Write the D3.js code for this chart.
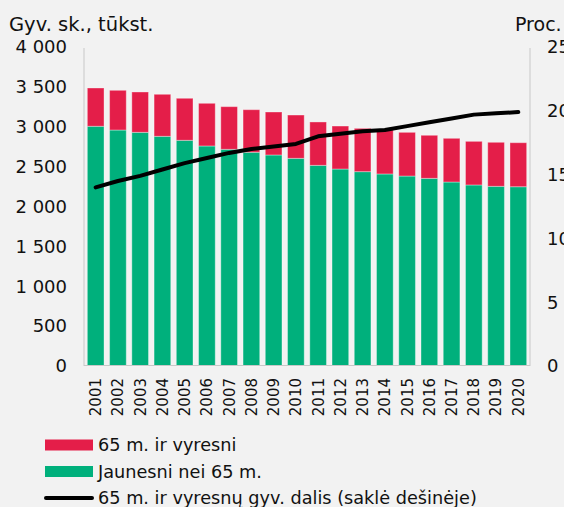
<!DOCTYPE html>
<html>
<head>
<meta charset="utf-8">
<script src="https://cdn.jsdelivr.net/npm/d3@7"></script>
<style>
  html, body { margin: 0; padding: 0; background: #f2f2f2; }
  svg { display: block; font-family: "DejaVu Sans", Verdana, sans-serif; }
</style>
</head>
<body>
<svg id="chart" width="564" height="507"></svg>
<script>
// data
const years = ["2001","2002","2003","2004","2005","2006","2007","2008","2009","2010",
               "2011","2012","2013","2014","2015","2016","2017","2018","2019","2020"];
const younger = [3006,2959,2930,2880,2830,2759,2717,2680,2646,2604,
                 2516,2470,2437,2408,2382,2353,2307,2270,2253,2248];
const older = [480,498,506,527,527,535,535,534,539,543,
               544,539,543,555,548,540,548,547,552,552];
const shareOlder = [14.0,14.5,14.9,15.4,15.9,16.3,16.7,17.0,17.2,17.4,
                    18.0,18.2,18.4,18.5,18.8,19.1,19.4,19.7,19.8,19.9];
const leftTicks = [0,500,1000,1500,2000,2500,3000,3500,4000];
const rightTicks = [0,5,10,15,20,25];
const legendLabels = ["65 m. ir vyresni", "Jaunesni nei 65 m.", "65 m. ir vyresnų gyv. dalis (saklė dešinėje)"];

const red = "#e41e49";
const green = "#00b07c";

const svg = d3.select("#chart");
const x0 = 84, x1 = 530, yTop = 47, yBot = 366;

const x = d3.scaleBand().domain(years).range([x0, x1]).paddingInner(0.25).paddingOuter(0.15);
const y = d3.scaleLinear().domain([0, 4000]).range([yBot, yTop]);
const y2 = d3.scaleLinear().domain([0, 25]).range([yBot, yTop]);

const fmt = d => d3.format(",")(d).replace(/,/g, " ");

// axis lines
svg.append("line").attr("x1", x0).attr("x2", x0).attr("y1", yTop + 1).attr("y2", yBot)
  .attr("stroke", "#c8c8c8").attr("stroke-width", 1);
svg.append("line").attr("x1", x1).attr("x2", x1).attr("y1", yTop + 1).attr("y2", yBot)
  .attr("stroke", "#c8c8c8").attr("stroke-width", 1);

// stacked bars
const rows = years.map((yr, i) => ({ year: yr, young: younger[i], old: older[i] }));
const stack = d3.stack().keys(["young", "old"])(rows);
const colors = { young: green, old: red };

svg.append("g").selectAll("g").data(stack).join("g")
  .attr("fill", d => colors[d.key])
  .selectAll("rect").data(d => d).join("rect")
  .attr("x", d => x(d.data.year))
  .attr("width", x.bandwidth())
  .attr("y", d => y(d[1]))
  .attr("height", d => y(d[0]) - y(d[1]))
  .attr("stroke", "#ffffff").attr("stroke-opacity", 0.35).attr("stroke-width", 1);

svg.append("line").attr("x1", x0).attr("x2", x1).attr("y1", yBot - 0.5).attr("y2", yBot - 0.5)
  .attr("stroke", "#c8c8c8").attr("stroke-width", 1);

// share line
const line = d3.line()
  .x((d, i) => x(years[i]) + x.bandwidth() / 2)
  .y(d => y2(d));
svg.append("path").datum(shareOlder)
  .attr("d", line)
  .attr("fill", "none").attr("stroke", "#000").attr("stroke-width", 4)
  .attr("stroke-linecap", "round").attr("stroke-linejoin", "round");

// left ticks
svg.append("g").selectAll("text").data(leftTicks).join("text")
  .attr("x", 67).attr("y", d => y(d)).attr("dy", "0.35em")
  .attr("text-anchor", "end").attr("font-size", 18).attr("fill", "#111")
  .text(fmt);

// right ticks
svg.append("g").selectAll("text").data(rightTicks).join("text")
  .attr("x", 547).attr("y", d => y2(d)).attr("dy", "0.35em")
  .attr("text-anchor", "start").attr("font-size", 18).attr("fill", "#111")
  .text(d => d);

// year labels
svg.append("g").selectAll("text").data(years).join("text")
  .attr("transform", d => `translate(${x(d) + x.bandwidth() / 2},378) rotate(-90)`)
  .attr("dy", "0.36em").attr("text-anchor", "end")
  .attr("font-size", 15).attr("fill", "#111")
  .text(d => d);

// axis titles
svg.append("text").attr("x", 9).attr("y", 31).attr("font-size", 19.5).attr("fill", "#111")
  .text("Gyv. sk., tūkst.");
svg.append("text").attr("x", 515).attr("y", 31).attr("font-size", 19).attr("fill", "#111")
  .text("Proc.");

// legend
const lg = svg.append("g");
const lgY = [445, 471.5, 498];
lg.append("rect").attr("x", 45).attr("y", lgY[0] - 5.5).attr("width", 48).attr("height", 11).attr("fill", red);
lg.append("rect").attr("x", 45).attr("y", lgY[1] - 5.5).attr("width", 48).attr("height", 11).attr("fill", green);
lg.append("line").attr("x1", 46).attr("x2", 92).attr("y1", lgY[2]).attr("y2", lgY[2])
  .attr("stroke", "#000").attr("stroke-width", 4).attr("stroke-linecap", "round");
lg.selectAll("text").data(legendLabels).join("text")
  .attr("x", 98).attr("y", (d, i) => lgY[i]).attr("dy", "0.35em")
  .attr("font-size", 17.7).attr("fill", "#111")
  .text(d => d);
</script>
</body>
</html>
